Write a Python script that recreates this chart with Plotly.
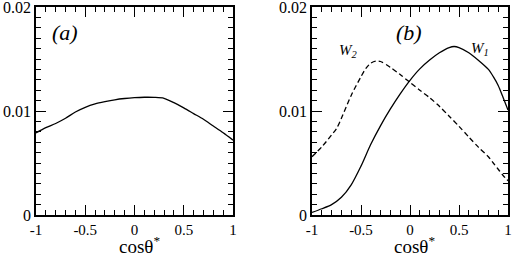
import plotly.graph_objects as go

# ---- data ----
x_a = [-1, -0.9, -0.8, -0.7, -0.6, -0.5, -0.4, -0.3, -0.2, -0.1, 0, 0.1, 0.2, 0.3, 0.4, 0.5, 0.6, 0.7, 0.8, 0.9, 1.0]
y_a = [0.0079, 0.0084, 0.0088, 0.0093, 0.0099, 0.01035, 0.01068, 0.0109, 0.01108, 0.0112, 0.01128, 0.01132,
       0.01131, 0.01122, 0.0108, 0.0103, 0.00975, 0.0092, 0.00855, 0.0079, 0.0072]

x_w1 = [-1, -0.9, -0.8, -0.7, -0.6, -0.5, -0.4, -0.3, -0.2, -0.1, 0, 0.1, 0.2, 0.3, 0.4, 0.45, 0.5, 0.6, 0.7,
        0.8, 0.85, 0.9, 0.95, 1.0]
y_w1 = [0.00025, 0.0006, 0.0010, 0.0017, 0.0029, 0.0047, 0.0068, 0.0086, 0.0102, 0.01165, 0.01295, 0.01405,
        0.0149, 0.0156, 0.0161, 0.0162, 0.0161, 0.0156, 0.01486, 0.0140, 0.0133, 0.01246, 0.0113, 0.0101]

x_w2 = [-1, -0.9, -0.8, -0.75, -0.7, -0.6, -0.5, -0.45, -0.4, -0.35, -0.3, -0.2, -0.1, 0, 0.1, 0.2, 0.3, 0.4,
        0.5, 0.6, 0.7, 0.8, 0.85, 0.9, 0.95, 1.0]
y_w2 = [0.0056, 0.00655, 0.0077, 0.0083, 0.0093, 0.0115, 0.0133, 0.0141, 0.0146, 0.0148, 0.01476, 0.0142,
        0.0135, 0.01275, 0.0120, 0.01128, 0.01045, 0.0095, 0.00853, 0.0075, 0.0065, 0.0056, 0.0050, 0.0044,
        0.0038, 0.0033]

x_ticks = [-1, -0.5, 0, 0.5, 1]
x_ticklabels = ["-1", "-0.5", "0", "0.5", "1"]
y_ticks = [0, 0.01, 0.02]
y_ticklabels = ["0", "0.01", "0.02"]

SERIF = "Liberation Serif"
W, H = 514, 259

fig = go.Figure()
fig.add_trace(go.Scatter(x=x_a, y=y_a, mode="lines", line=dict(color="black", width=1.3, shape="spline", smoothing=0.8),
                         xaxis="x", yaxis="y", showlegend=False))
fig.add_trace(go.Scatter(x=x_w1, y=y_w1, mode="lines", line=dict(color="black", width=1.3, shape="spline", smoothing=0.8),
                         xaxis="x2", yaxis="y2", showlegend=False))
fig.add_trace(go.Scatter(x=x_w2, y=y_w2, mode="lines",
                         line=dict(color="black", width=1.3, dash="5px,3px", shape="spline", smoothing=0.8),
                         xaxis="x2", yaxis="y2", showlegend=False))

def px_x(p):
    return p / W

def px_y(p):
    return 1 - p / H

ax_common = dict(showline=True, linecolor="black", linewidth=1.5, mirror="allticks", ticks="inside",
                 ticklen=10, tickwidth=1.3, tickcolor="black", showgrid=False, zeroline=False,
                 automargin=False, ticklabeloverflow="allow")

xa = dict(ax_common, range=[-1, 1], tickmode="array", tickvals=x_ticks, ticktext=x_ticklabels,
          tickfont=dict(family=SERIF, size=15, color="black"),
          minor=dict(ticks="inside", tickmode="linear", dtick=0.1, tick0=0, ticklen=5, tickwidth=1.2,
                     tickcolor="black", showgrid=False))
ya = dict(ax_common, range=[0, 0.02], tickmode="array", tickvals=y_ticks, ticktext=y_ticklabels,
          tickfont=dict(family=SERIF, size=16, color="black"),
          minor=dict(ticks="inside", tickmode="linear", dtick=0.001, tick0=0, ticklen=5, tickwidth=1.2,
                     tickcolor="black", showgrid=False))

ydom = [px_y(215), px_y(7)]
fig.update_layout(
    width=W, height=H, margin=dict(l=0, r=0, t=0, b=0),
    paper_bgcolor="white", plot_bgcolor="rgba(0,0,0,0)",
    font=dict(family=SERIF, color="black"),
    xaxis=dict(xa, domain=[px_x(36), px_x(233)], anchor="y"),
    yaxis=dict(ya, domain=ydom, anchor="x"),
    xaxis2=dict(xa, domain=[px_x(312), px_x(508)], anchor="y2"),
    yaxis2=dict(ya, domain=ydom, anchor="x2"),
)

annos = [
    dict(text="<i>(a)</i>", x=-0.706, y=0.0175, xref="x", yref="y", size=22),
    dict(text="<i>(b)</i>", x=-0.01, y=0.0175, xref="x2", yref="y2", size=22),
    dict(text="<i>W<sub>2</sub></i>", x=-0.624, y=0.0158, xref="x2", yref="y2", size=15),
    dict(text="<i>W<sub>1</sub></i>", x=0.716, y=0.016, xref="x2", yref="y2", size=15),
]
for a in annos:
    fig.add_annotation(text=a["text"], x=a["x"], y=a["y"], xref=a["xref"], yref=a["yref"],
                       showarrow=False, xanchor="center", yanchor="middle",
                       font=dict(family=SERIF, size=a["size"], color="black"))

for xr in ["x", "x2"]:
    fig.add_annotation(text="cosθ<sup>*</sup>", x=0.05, y=0, xref=xr, yref="paper",
                       showarrow=False, xanchor="center", yanchor="bottom",
                       font=dict(family=SERIF, size=19, color="black"))

fig.write_html("out.html", config={"displayModeBar": False},
               post_script="document.body.style.margin='0px';document.body.style.overflow='hidden';")
